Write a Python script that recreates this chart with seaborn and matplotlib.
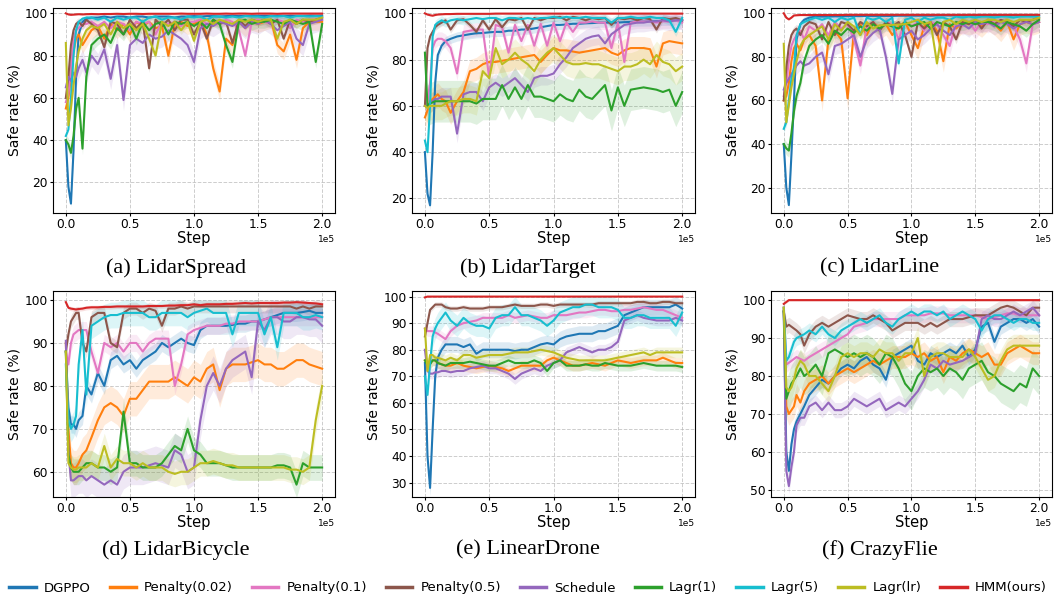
import numpy as np
import pandas as pd
import matplotlib
matplotlib.use("Agg")
import matplotlib.pyplot as plt
from matplotlib.lines import Line2D
import seaborn as sns

# training steps (thousands)
STEPS_K = [0, 2, 4, 6, 8, 10, 13, 16, 20,
           25, 30, 35, 40, 45, 50, 55, 60, 65, 70, 75, 80,
           85, 90, 95, 100, 105, 110, 115, 120, 125, 130, 135, 140,
           145, 150, 155, 160, 165, 170, 175, 180, 185, 190, 195, 200]

METHODS = ["DGPPO", "Penalty(0.02)", "Penalty(0.1)", "Penalty(0.5)", "Schedule",
           "Lagr(1)", "Lagr(5)", "Lagr(lr)", "HMM(ours)"]
COLORS = ["#1f77b4", "#ff7f0e", "#e377c2", "#8c564b", "#9467bd",
          "#2ca02c", "#17becf", "#bcbd22", "#d62728"]

# ---------------- (a) LidarSpread ----------------
LIDAR_SPREAD = {
    "DGPPO": [40, 18, 10, 35, 70, 90, 96, 97.5, 98,
              98, 98.5, 98, 98.5, 98.5, 98, 98.5, 98.5, 98, 98.5, 98.5, 98.5,
              98, 98.5, 98.5, 98.7, 98.5, 98.7, 98.7, 98.5, 98.7, 98.8, 98.7, 98.8,
              98.7, 98.8, 98.8, 98.7, 98.8, 98.8, 98.8, 98.8, 98.8, 98.9, 98.8, 98.8],
    "Penalty(0.02)": [55, 60, 70, 82, 88, 90, 85, 88, 92,
                      94, 88, 95, 92, 95, 90, 96, 94, 96, 93, 94, 80,
                      95, 96, 94, 95, 97, 90, 74, 63, 88, 85, 96, 93,
                      96, 95, 96, 97, 85, 82, 90, 78, 93, 96, 96, 96],
    "Penalty(0.1)": [58, 62, 75, 88, 92, 93, 95, 95, 96,
                     94, 96, 93, 96, 95, 92, 96, 95, 96, 90, 96, 95,
                     96, 94, 96, 96, 97, 95, 96, 95, 97, 96, 92, 80,
                     96, 97, 96, 95, 97, 96, 93, 97, 96, 97, 97, 97],
    "Penalty(0.5)": [60, 70, 85, 92, 95, 96, 94, 97, 95,
                     92, 84, 96, 95, 90, 97, 93, 96, 74, 97, 94, 97,
                     92, 97, 97, 90, 96, 88, 97, 95, 96, 86, 97, 94,
                     97, 96, 97, 95, 97, 88, 97, 95, 97, 96, 97, 98],
    "Schedule": [65, 70, 68, 72, 70, 74, 78, 72, 80,
                 76, 83, 69, 85, 59, 85, 88, 86, 90, 88, 89, 92,
                 90, 88, 85, 77, 93, 95, 94, 96, 95, 94, 96, 93,
                 96, 95, 97, 95, 92, 94, 96, 88, 85, 95, 96, 97],
    "Lagr(1)": [40, 38, 34, 42, 55, 60, 36, 70, 85,
                88, 90, 86, 93, 90, 95, 88, 96, 92, 95, 96, 90,
                96, 95, 96, 94, 96, 93, 97, 95, 85, 77, 96, 97,
                95, 96, 96, 97, 96, 95, 97, 96, 95, 96, 77, 95],
    "Lagr(5)": [42, 45, 60, 80, 92, 96, 97.5, 98, 98,
                97, 98, 96, 98, 97, 98, 98, 96, 98, 98.5, 97, 98,
                98, 97, 98.5, 98, 98.5, 97, 98.5, 98.5, 98, 98.5, 98, 98.7,
                98.5, 98.5, 98, 98.7, 98.5, 98.7, 98, 98.7, 98.7, 98.5, 98.7, 98.5],
    "Lagr(lr)": [86, 47, 55, 66, 75, 82, 88, 92, 94,
                 93, 95, 90, 96, 93, 95, 92, 95, 88, 80, 96, 94,
                 96, 92, 96, 87, 96, 97, 95, 97, 96, 95, 97, 96,
                 97, 96, 97, 97, 88, 96, 97, 95, 97, 97, 97, 98],
    "HMM(ours)": [100, 99.5, 99.3, 99.4, 99.5, 99.6, 99.5, 99.6, 99.7,
                  99.6, 99.7, 99.7, 99.8, 99.7, 99.8, 99.8, 99.7, 99.8, 99.8, 99.8, 99.8,
                  99.8, 99.9, 99.8, 99.8, 99.8, 99.9, 99.8, 99.8, 99.9, 99.8, 99.9, 99.9,
                  99.8, 99.9, 99.9, 99.9, 99.8, 99.9, 99.9, 99.9, 99.9, 99.9, 99.9, 99.9],
}
SPREAD_A = [1.5, 4, 2, 2, 5, 3, 1, 2, 0.3]

# ---------------- (b) LidarTarget ----------------
LIDAR_TARGET = {
    "DGPPO": [40, 22, 17, 40, 70, 82, 86, 88, 89,
              90, 90.5, 91, 91.4, 91.5, 91.8, 92, 92, 92.5, 92.5, 93, 93,
              93.5, 94, 94.5, 95, 95, 95.2, 95.5, 95.5, 95.7, 95.8, 96, 96,
              96, 96, 96.2, 96.3, 96.5, 96.5, 96.5, 96.6, 96.8, 96.8, 97, 97],
    "Penalty(0.02)": [55, 58, 62, 63, 64, 65, 63, 62, 57,
                      62, 66, 75, 76, 78, 79, 79, 79.5, 80, 80.5, 81, 81.5,
                      82, 79, 82, 85, 84, 84, 83.5, 83, 83.5, 84, 84.5, 85,
                      83, 82, 84, 85, 85, 85, 84.5, 77, 87, 88, 87.5, 87],
    "Penalty(0.1)": [60, 62, 70, 85, 88, 89, 89, 88, 85,
                     74, 92, 92.5, 93, 93, 72, 95, 94, 83, 95, 88, 95,
                     86, 95.5, 86, 96, 88, 96, 92, 96, 96, 96.5, 96, 96,
                     85, 96, 79, 96, 96.5, 96.5, 96.5, 96, 96.5, 96.5, 97, 96],
    "Penalty(0.5)": [60, 85, 90, 92, 94, 95, 96, 97, 93,
                     97, 97.5, 95, 92, 97, 93, 97.5, 94, 97.5, 97, 98, 93,
                     98, 97, 98, 98, 98.5, 97, 98.5, 98, 97, 98, 97.5, 98,
                     95, 98, 97.5, 98, 97, 98, 97.5, 93, 98, 97.5, 98, 97],
    "Schedule": [60, 60, 61, 62, 63, 63, 64, 64, 64,
                 48, 65, 66, 66, 62, 68, 70, 68, 70, 72, 69, 66,
                 72, 73, 73, 74, 78, 81, 85, 87, 89, 90, 90.5, 87,
                 91, 93, 95, 95.5, 96, 96, 96.5, 96.5, 97, 96.5, 97, 97],
    "Lagr(1)": [83, 60, 61, 61.5, 62, 62, 62, 62, 62,
                62, 62, 62, 61, 63, 63, 63, 69, 63, 68, 63, 69,
                64, 64, 63, 62, 65, 63, 62, 67, 64, 63, 66, 69,
                58, 68, 60, 67, 67.5, 68, 67.5, 67, 66, 67, 60, 66],
    "Lagr(5)": [45, 40, 60, 90, 95, 96, 97, 96, 97,
                97.5, 97, 97.5, 98, 97.5, 98, 98, 97, 98, 98, 97.5, 98,
                97.5, 98, 98, 98.5, 98, 98.5, 98, 98, 98.5, 98, 98, 98,
                96, 98, 98, 98.5, 98, 98, 98.5, 98, 98, 97, 92, 98],
    "Lagr(lr)": [60, 59, 60, 60, 60, 60, 60, 61, 62,
                 62, 63, 63, 62, 75, 72, 85, 78, 80, 83, 80, 78,
                 75, 80, 83, 85, 82, 79, 78, 78, 78.5, 78, 78, 77,
                 76, 75, 77, 77, 78, 80, 78, 82, 79, 78, 75, 77],
    "HMM(ours)": [100, 99.5, 99.2, 99, 99.3, 99.5, 99.6, 99.7, 99.7,
                  99.8, 99.8, 99.8, 99.8, 99.8, 99.8, 99.9, 99.9, 99.9, 99.9, 99.9, 99.9,
                  99.9, 99.9, 99.9, 99.9, 99.9, 99.9, 99.9, 99.9, 99.9, 99.9, 99.9, 99.9,
                  99.9, 99.9, 99.9, 99.9, 99.9, 99.9, 99.9, 99.9, 99.9, 99.9, 99.9, 99.9],
}
SPREAD_B = [2, 5, 3, 1.5, 4, 9, 2, 6, 0.3]

# ---------------- (c) LidarLine ----------------
LIDAR_LINE = {
    "DGPPO": [40, 20, 12, 35, 60, 88, 95, 97, 98,
              98.5, 98.5, 98.5, 98.6, 98.6, 98.7, 98.7, 98.7, 98.8, 98.8, 98.8, 98.8,
              98.8, 98.9, 98.9, 98.9, 98.9, 98.9, 98.9, 99, 99, 99, 99, 99,
              99, 99, 99, 99, 99, 99, 99, 99, 99, 99, 99, 99],
    "Penalty(0.02)": [60, 62, 68, 78, 84, 86, 83, 88, 90,
                      85, 60, 88, 92, 88, 61, 92, 95, 90, 96, 93, 95,
                      90, 94, 96, 90, 84, 94, 96, 92, 78, 95, 93, 96,
                      95, 96, 94, 97, 95, 92, 96, 88, 95, 96, 95, 96],
    "Penalty(0.1)": [62, 68, 78, 85, 88, 90, 92, 88, 94,
                     92, 95, 90, 96, 93, 95, 88, 76, 94, 96, 92, 96,
                     95, 88, 96, 94, 96, 92, 96, 95, 90, 85, 96, 94,
                     96, 92, 96, 95, 97, 93, 96, 94, 88, 77, 95, 96],
    "Penalty(0.5)": [60, 75, 85, 90, 92, 93, 90, 94, 96,
                     95, 88, 96, 90, 96, 95, 92, 96, 94, 96, 92, 96,
                     94, 96, 90, 80, 96, 93, 96, 90, 96, 94, 88, 96,
                     95, 97, 93, 97, 95, 97, 96, 94, 97, 96, 97, 98],
    "Schedule": [65, 68, 70, 72, 74, 76, 78, 76, 77,
                 80, 82, 72, 85, 86, 88, 90, 80, 88, 91, 93, 80,
                 63, 88, 90, 92, 88, 90, 93, 95, 92, 90, 94, 95,
                 93, 96, 95, 96, 94, 96, 95, 93, 95, 96, 95, 96],
    "Lagr(1)": [40, 38, 37, 45, 55, 62, 68, 78, 85,
                88, 90, 86, 92, 90, 93, 91, 94, 92, 95, 93, 95,
                94, 93, 96, 94, 95, 96, 93, 96, 95, 94, 96, 95,
                96, 95, 96, 96, 95, 93, 96, 95, 94, 92, 95, 97],
    "Lagr(5)": [47, 50, 60, 70, 75, 90, 95, 96, 97,
                98, 97, 98, 96, 98, 97, 98, 90, 98, 97, 98, 96,
                98, 77, 97, 98, 96, 98, 97, 98, 98, 97, 98.5, 98,
                98.5, 98, 98.5, 98.5, 98, 98.5, 98.5, 98, 98.5, 98.5, 98.5, 98.5],
    "Lagr(lr)": [86, 50, 58, 66, 72, 78, 85, 88, 90,
                 92, 94, 88, 95, 92, 96, 94, 90, 96, 93, 94.5, 94.6,
                 94.7, 94.8, 95, 96, 97, 95, 96, 77, 96, 97, 95, 97,
                 96, 97, 96, 97, 97, 96, 97, 96, 97, 97, 97, 98],
    "HMM(ours)": [100, 98, 97.2, 98, 99, 99.1, 99.2, 99.2, 99.2,
                  99.2, 99.2, 99.2, 99.2, 99.2, 99.3, 99.3, 99.3, 99.3, 99.3, 99.3, 99.3,
                  99.3, 99.3, 99.3, 99.3, 99.3, 99.3, 99.3, 99.3, 99.3, 99.3, 99.3, 99.3,
                  99.3, 99.3, 99.3, 99.3, 99.3, 99.3, 99.3, 99.3, 99.3, 99.3, 99.3, 99.3],
}
SPREAD_C = [1.5, 5, 4, 2, 4, 3, 2, 2, 0.3]

# ---------------- (d) LidarBicycle ----------------
LIDAR_BICYCLE = {
    "DGPPO": [88, 75, 71, 71, 70, 72, 73, 80, 78,
              83, 80, 86, 87, 85, 86, 84, 86, 87, 88, 90, 89,
              90, 91, 90, 89.5, 93, 94, 94, 94, 94, 94.2, 94.5, 94.5,
              95, 95, 95.5, 96, 96.5, 97, 97, 97, 97.2, 97.5, 97, 97],
    "Penalty(0.02)": [90, 70, 62, 61, 61, 62, 64, 65, 68,
                      72, 75, 76, 75, 73, 77, 77, 79, 81, 81, 81, 81,
                      82, 81, 80, 82, 81, 84, 85, 79, 84, 85, 85, 85,
                      85.5, 86, 85, 85, 84, 84, 85, 86, 86, 85, 84.5, 84],
    "Penalty(0.1)": [88, 85, 90, 92, 92.5, 93, 93, 93, 88,
                     83, 90, 89, 90, 88, 90, 90, 88, 90, 91, 91, 91,
                     80, 85, 92, 93, 93.5, 94, 94, 94, 94.5, 94.5, 95, 95,
                     95, 95, 95.5, 96, 96, 96, 96, 96, 96, 96, 96, 96],
    "Penalty(0.5)": [88, 92, 95, 96, 97, 97, 90, 88, 96,
                     97, 97, 90, 89, 97, 98, 98, 97, 98, 97.5, 94, 98,
                     98, 98.5, 98, 98.5, 98.5, 98.5, 98.5, 98.5, 98.5, 98.5, 98.5, 98.5,
                     98.5, 98.5, 98.5, 98.5, 98.5, 98.5, 98.5, 98, 98.5, 98, 98.5, 98.5],
    "Schedule": [90.5, 65, 58, 58, 58.5, 59, 59, 58, 59,
                 58, 57, 58, 57, 60, 61, 61, 61, 61.5, 62, 61.5, 61,
                 65, 64, 60, 61, 72, 80, 83, 80, 84, 86, 87, 88,
                 82, 95, 93, 96, 96, 95, 95, 96, 96, 95.5, 95.5, 94],
    "Lagr(1)": [88, 64, 61, 60, 60, 60, 61, 62, 62,
                61, 61, 60, 61, 74, 62, 62, 61, 61, 61, 62, 64,
                66, 65, 70, 65, 64, 62, 62, 62, 61.5, 61, 61, 61,
                61, 61, 61, 61, 61.5, 61.5, 61, 57, 62, 61, 61, 61],
    "Lagr(5)": [85, 72, 70, 71, 73, 85, 93, 78, 94,
                95, 96, 96.5, 96.5, 97, 97, 97, 97, 96, 96, 97, 97,
                97, 97, 96, 97, 97.5, 98, 97, 97, 97, 92, 97, 97,
                97, 97, 92, 96, 89, 97, 97, 97, 96, 96, 96.5, 96],
    "Lagr(lr)": [88, 62, 61, 60.5, 60.5, 61, 61, 61, 62,
                 61, 66, 61, 63, 62, 62, 61, 62, 61, 61, 61, 60,
                 59.5, 60, 60, 61, 62, 62, 62.5, 62, 61.5, 61.5, 61, 61,
                 61, 61, 61, 61, 61, 61, 60.5, 60.5, 60, 61, 72, 80],
    "HMM(ours)": [99.5, 98.2, 98, 97.9, 97.8, 97.9, 98, 98.2, 98.3,
                  98.3, 98.4, 98.4, 98.5, 98.5, 98.5, 98.5, 98.5, 98.6, 98.6, 98.6, 98.7,
                  98.7, 98.8, 98.8, 99, 98.8, 99, 99, 99, 99.1, 99.1, 99.2, 99.3,
                  99.2, 99.3, 99.3, 99.3, 99.3, 99.4, 99.4, 99.5, 99.4, 99.3, 99.2, 99],
}
SPREAD_D = [2, 4, 2, 1.5, 4, 3, 3, 3, 0.5]

# ---------------- (e) LinearDrone ----------------
LINEAR_DRONE = {
    "DGPPO": [75, 40, 28, 50, 70, 77, 80, 82, 82,
              82, 81, 82, 78.5, 80, 80, 80, 80, 80, 79.5, 80, 80,
              81, 82, 82.5, 82, 84, 85, 85.5, 86, 86, 86, 87, 87,
              88, 89, 93, 94, 95, 96, 96, 96, 96, 96, 97, 95.5],
    "Penalty(0.02)": [76, 75, 75, 76, 76, 75, 74.5, 74, 74,
                      75, 74, 73.5, 73, 73.5, 74, 73.5, 73, 72, 73, 74, 74,
                      74, 74, 76, 77, 76, 75, 74, 74, 74.5, 75, 74.5, 74,
                      75, 76, 75.5, 75, 75.5, 76, 76, 76, 77, 76, 75, 75],
    "Penalty(0.1)": [88, 87, 87, 87, 86.5, 86, 85, 84, 87,
                     89, 90, 90.5, 91, 92, 92, 92, 92, 93, 92, 92.5, 93,
                     92.5, 92, 92, 93, 93, 93, 93.5, 94, 94, 94.5, 95, 95,
                     94.5, 94.5, 95, 95, 95.5, 96, 95.5, 95, 95, 94, 93, 92],
    "Penalty(0.5)": [85, 90, 95, 96, 97, 97, 97, 96, 95.5,
                     95.5, 96, 95.5, 95.5, 95.5, 96, 96, 96, 96.5, 97, 96.5, 96.5,
                     96.5, 97, 97, 96.5, 97, 97, 97, 97, 97, 97, 97.5, 97.5,
                     97.5, 97.5, 97.5, 97.5, 98, 98, 97.5, 97.5, 98, 98, 97.5, 97.5],
    "Schedule": [80, 72, 71, 71, 71.5, 71.5, 72, 72, 71.5,
                 72, 72, 73, 73.5, 74, 73, 73, 72, 71, 69, 71, 72,
                 73, 72, 74, 75, 76, 79, 80, 81, 80, 79, 80, 80,
                 81, 83, 91, 92, 93, 92, 91.5, 91, 91, 91, 92, 91],
    "Lagr(1)": [76, 74, 74.5, 76, 76, 75, 74.5, 74, 75,
                75, 75, 75.5, 75, 74.5, 74, 74, 75, 76, 75, 75, 75,
                76, 75, 72, 75, 76, 74, 74, 74, 74.5, 74, 74, 75,
                74.5, 74, 74, 74, 74.5, 75, 74.5, 74, 74, 74, 74, 73.5],
    "Lagr(5)": [70, 63, 75, 85, 88, 90, 92, 94, 91,
                89, 92, 90, 89, 89, 88, 92, 93, 93, 96, 93, 93,
                92, 91, 89, 91, 94, 95, 96, 96, 97, 97, 96, 96,
                96, 95, 92, 92, 93, 93, 92, 92, 92, 92, 89, 94],
    "Lagr(lr)": [88, 72, 78, 78, 77, 77, 76.5, 76, 77,
                 76, 78, 78, 77, 77.5, 78, 78, 78, 78.5, 79, 79, 79,
                 79.5, 80, 79.5, 79, 78, 77, 76.5, 76, 76, 76, 76, 76,
                 76.5, 77, 77.5, 78, 78.5, 79, 78, 79, 79, 79, 79, 79],
    "HMM(ours)": [99.7, 100, 100, 100, 100, 100, 100, 100, 100,
                  100, 100, 100, 100, 100, 100, 100, 100, 100, 100, 100, 100,
                  100, 100, 100, 100, 100, 100, 100, 100, 100, 100, 100, 100,
                  100, 100, 100, 100, 100, 100, 100, 100, 100, 100, 100, 100],
}
SPREAD_E = [3, 2, 2, 1, 2, 2, 4, 2, 0.2]

# ---------------- (f) CrazyFlie ----------------
CRAZY_FLIE = {
    "DGPPO": [97, 60, 55, 62, 66, 68, 70, 72, 75,
              77, 79, 78, 80, 82, 83, 82, 84, 85, 83, 82, 79,
              85, 86, 87, 88, 84, 83, 86, 85, 86, 87, 86, 88,
              85, 87, 93, 94, 89, 93, 94, 95, 95, 94, 95, 93],
    "Penalty(0.02)": [98, 72, 70, 71, 72, 75, 73, 76, 78,
                      79, 80, 78, 80, 81, 82, 81, 82, 83, 84, 83, 84,
                      85, 85, 85, 86, 85, 86, 84, 85, 81, 85, 84, 86,
                      87, 86, 85, 86, 83, 83, 86, 87, 88, 87, 86, 86],
    "Penalty(0.1)": [98, 83, 83.5, 84, 84.5, 85, 84.5, 84, 85,
                     86, 87, 88, 89, 90, 91, 93, 93.5, 94, 95, 95, 95,
                     95, 95, 96, 96, 96, 96, 96.5, 96.5, 96.5, 96, 96, 96,
                     96, 96, 95.5, 95, 95.5, 96, 96.5, 96.5, 96, 96, 96, 96],
    "Penalty(0.5)": [97, 93, 93.5, 93, 92.5, 92, 91, 88, 91,
                     93, 94, 93, 94, 95, 96, 95.5, 95, 95, 96, 95, 94,
                     92, 93, 94, 94, 94, 93, 94, 93, 94, 95, 95, 95,
                     95.5, 96, 96, 96, 97, 98, 98.5, 98, 97, 96, 98, 98],
    "Schedule": [97, 55, 51, 56, 60, 67, 69, 69, 72,
                 73, 71, 73, 71, 71, 72, 74, 73, 72, 73, 74, 71,
                 72, 73, 72, 74, 76, 79, 83, 82, 84, 83, 83.5, 84,
                 85, 86, 95, 96, 95, 95, 96, 97, 96, 97, 98, 96],
    "Lagr(1)": [97, 74, 76, 78, 79, 80, 82, 80, 81,
                83, 80, 86, 87, 86, 85, 86, 85, 86, 85, 83, 86,
                85, 82, 78, 76, 80, 82, 81, 82, 80, 82, 81, 79,
                82, 83, 84, 81, 80, 78, 77, 76, 78, 77, 82, 80],
    "Lagr(5)": [98, 84, 85, 87, 89, 90, 90.5, 91, 92,
                91, 93, 91, 90, 92, 93, 94, 95, 94, 95, 96, 94,
                93, 95, 96, 97, 96, 97, 97, 96, 97, 95, 96, 97,
                96, 95, 92, 95, 96, 96, 95, 94, 95, 95, 94, 94],
    "Lagr(lr)": [98, 77, 76, 77, 79, 82, 84, 83, 80,
                 80, 78, 76, 80, 85, 86, 85, 86, 86, 85, 87, 86,
                 86, 84, 86, 86, 90, 80, 85, 86, 86, 85, 85, 85,
                 87, 85, 82, 79, 80, 84, 87, 88, 88, 88, 88, 88],
    "HMM(ours)": [99, 99.5, 100, 100, 100, 100, 100, 100, 100,
                  100, 100, 100, 100, 100, 100, 100, 100, 100, 100, 100, 100,
                  100, 100, 100, 100, 100, 100, 100, 100, 100, 100, 100, 100,
                  100, 100, 100, 100, 100, 100, 100, 100, 100, 100, 100, 100],
}
SPREAD_F = [2, 3, 2, 2, 2, 5, 2, 3, 0.3]

CAPTIONS = ["(a) LidarSpread", "(b) LidarTarget", "(c) LidarLine",
            "(d) LidarBicycle", "(e) LinearDrone", "(f) CrazyFlie"]
Y_LIMS = [(5.7, 102.4), (13.8, 102.2), (8.5, 102.3),
          (54.2, 102.1), (24.7, 102.1), (48.2, 102.4)]
Y_TICKS = [[20, 40, 60, 80, 100], [20, 40, 60, 80, 100], [20, 40, 60, 80, 100],
           [60, 70, 80, 90, 100], [30, 40, 50, 60, 70, 80, 90, 100], [50, 60, 70, 80, 90, 100]]
X_TICKS = [0, 50000, 100000, 150000, 200000]

PANELS = [LIDAR_SPREAD, LIDAR_TARGET, LIDAR_LINE, LIDAR_BICYCLE, LINEAR_DRONE, CRAZY_FLIE]
SPREADS = [SPREAD_A, SPREAD_B, SPREAD_C, SPREAD_D, SPREAD_E, SPREAD_F]

for p in PANELS:
    for m in METHODS:
        assert len(p[m]) == len(STEPS_K), (m, len(p[m]))

palette = dict(zip(METHODS, COLORS))
steps = np.array(STEPS_K) * 1000.0

fig = plt.figure(figsize=(10.56, 6.0), dpi=100)
lefts = [0.0502, 0.3902, 0.7301]
widths = [0.267, 0.268, 0.266]
bottoms = [0.6455, 0.1722]
heights = [0.3407, 0.3428]
cap_x = [176 / 1056, 528 / 1056, 880 / 1056]
cap_y = [1 - 268 / 600, 1 - 550 / 600]

for idx, (data, spread) in enumerate(zip(PANELS, SPREADS)):
    r, c = divmod(idx, 3)
    ax = fig.add_axes([lefts[c], bottoms[r], widths[c], heights[r]])
    rows = []
    for m in METHODS:
        for s, v in zip(steps, data[m]):
            rows.append((s, v, m))
    df = pd.DataFrame(rows, columns=["step", "rate", "method"])
    for m, sp in zip(METHODS, spread):
        v = np.array(data[m], dtype=float)
        ax.fill_between(steps, np.maximum(v - sp, 0), np.minimum(v + sp, 100),
                        color=palette[m], alpha=0.15, linewidth=0)
    sns.lineplot(data=df, x="step", y="rate", hue="method", hue_order=METHODS,
                 palette=palette, linewidth=1.5, legend=False, errorbar=None, ax=ax)
    ax.set_ylim(*Y_LIMS[idx])
    ax.set_yticks(Y_TICKS[idx])
    ax.set_xticks(X_TICKS)
    ax.set_xlim(-10000, 210000)
    ax.ticklabel_format(axis="x", style="sci", scilimits=(0, 0))
    ax.xaxis.get_offset_text().set_fontsize(6.5)
    ax.tick_params(labelsize=8.8, length=2.5, pad=1.5)
    ax.set_xlabel("Step", fontsize=10.5, labelpad=0)
    ax.set_ylabel("Safe rate (%)", fontsize=10, labelpad=2)
    ax.grid(True, linestyle="--", color="#b8b8b8", linewidth=0.7, alpha=0.7)
    ax.set_axisbelow(True)
    fig.text(cap_x[c], cap_y[r], CAPTIONS[idx], ha="center", va="center",
             fontsize=16, family="Liberation Serif")

handles = [Line2D([0], [0], color=palette[m], linewidth=2.5) for m in METHODS]
fig.legend(handles, METHODS, loc="center", bbox_to_anchor=(0.5, 1 - 588 / 600),
           ncol=9, frameon=False, fontsize=9.5, handlelength=2.0,
           columnspacing=1.45, handletextpad=0.6)

fig.savefig("out.png", dpi=100)
